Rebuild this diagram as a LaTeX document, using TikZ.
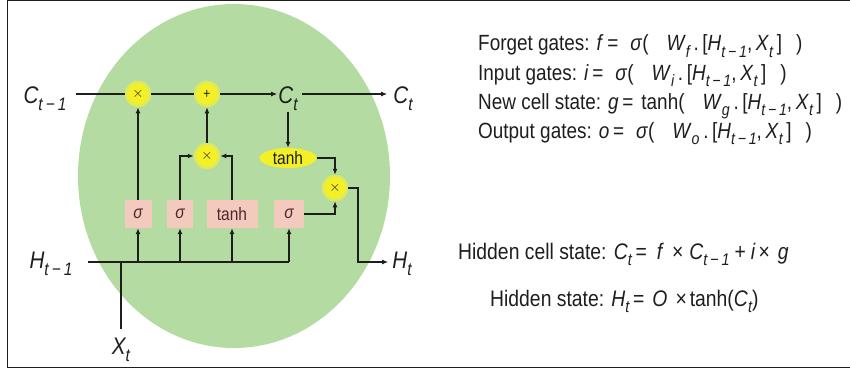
\documentclass[tikz,border=0pt]{standalone}
\usepackage{graphicx}
\usepackage{fontspec}
\setmainfont{Liberation Sans}[FakeStretch=0.86]
\usetikzlibrary{arrows.meta,shapes.geometric}
\definecolor{bggreen}{RGB}{180,220,162}
\definecolor{gateyellow}{RGB}{244,240,40}
\definecolor{halo}{RGB}{222,234,90}
\definecolor{actpink}{RGB}{244,202,190}
\definecolor{ink}{RGB}{30,30,30}
\definecolor{actink}{RGB}{80,40,40}
\newcommand{\sbs}[1]{\raisebox{-0.3em}{\scalebox{0.75}{\itshape #1}}}
\newcommand{\tmo}{t\,−\,1}
\begin{document}
\begin{tikzpicture}[x=1pt,y=-1pt,
  conn/.style={line width=1.2pt, draw=ink},
  arr/.style={conn, -{Latex[length=6pt,width=5pt]}},
  gate/.style={circle, fill=gateyellow, draw=halo, line width=2.5pt, minimum size=24pt, inner sep=0pt, font=\fontsize{14}{14}\selectfont, text=ink},
  act/.style={fill=actpink, minimum height=28pt, inner sep=0pt, font=\fontsize{18}{18}\selectfont, text=actink},
  lbl/.style={font=\fontsize{24}{24}\selectfont\itshape, text=ink, inner sep=1pt, anchor=base},
  eq/.style={anchor=base west, font=\fontsize{22}{22}\selectfont, text=ink, inner sep=0pt},
  eqbig/.style={anchor=base west, font=\fontsize{22.5}{22.5}\selectfont, text=ink, inner sep=0pt}]
\path[use as bounding box] (0,0) rectangle (850,369);
\draw[line width=1pt, ink] (850,1) -- (7,1) -- (7,367) -- (850,367);
% green cell
\fill[bggreen] (234,176) ellipse [x radius=156, y radius=172];
% gates
\node[gate] (mul1) at (138,94) {$\times$};
\node[gate] (add) at (207,94) {+};
\node[gate] (mul2) at (207,156) {$\times$};
\node[gate] (mul3) at (335,188) {$\times$};
\node[ellipse, fill=gateyellow, minimum width=57pt, minimum height=20pt, inner sep=0pt, font=\fontsize{18}{18}\selectfont, text=ink] (tanhE) at (288,158) {tanh};
% activation boxes
\node[act, minimum width=27pt] (s1) at (138,214) {\itshape σ};
\node[act, minimum width=26pt] (s2) at (180,214) {\itshape σ};
\node[act, minimum width=51pt] (tb) at (232,214) {tanh};
\node[act, minimum width=30pt] (s4) at (289,214) {\itshape σ};
% labels
\node[lbl] (cm1) at (45,103) {C\sbs{\tmo}};
\node[lbl] (Ct) at (288,103) {C\sbs{t}};
\node[lbl] (Cout) at (403,103) {C\sbs{t}};
\node[lbl] (Hm1) at (51,268) {H\sbs{\tmo}};
\node[lbl] (Ht) at (402,268) {H\sbs{t}};
\node[lbl] (Xt) at (121,354) {X\sbs{t}};
\coordinate (hend) at (289,262);
\coordinate (hout) at (358,262);
% cell state line
\draw[conn] (cm1.east |- mul1.west) ++(8,0) -- (mul1.west);
\draw[conn] (mul1.east) -- (add.west);
\draw[arr] (add.east) -- (Ct.west |- add.east);
\draw[arr] (Ct.east |- add.east) ++(3,0) -- ([xshift=-5pt]Cout.west |- add.east);
\draw[arr] (Ct.south -| tanhE.north) -- (tanhE.north);
% gate inputs
\draw[arr] (s1.north) -- (mul1.south);
\draw[arr] (s2.north) |- (mul2.west);
\draw[arr] (tb.north) |- (mul2.east);
\draw[arr] (mul2.north) -- (add.south);
\draw[arr] (tanhE.east) -| (mul3.north);
\draw[arr] (s4.east) -| (mul3.south);
\draw[arr] (mul3.east) -| (hout) -- ([xshift=-3pt]Ht.west |- hout);
% hidden input line
\draw[conn] (Hm1.east |- hend) ++(14,0) -- (hend);
\draw[conn] (Xt.north) ++(0,-7) -- (Xt.north |- hend);
\draw[arr] (s1.south |- hend) -- (s1.south);
\draw[arr] (s2.south |- hend) -- (s2.south);
\draw[arr] (tb.south |- hend) -- (tb.south);
\draw[arr] (hend) -- (s4.south);
% equations
\node[eq] (e1) at (478,51) {Forget gates: \textit{f}\,=\hspace{12pt}\textit{σ}(\hspace{18pt}\textit{W}\sbs{f}\,.\,[\textit{H}\sbs{\tmo},\,\textit{X}\sbs{t}\,]\hspace{14pt})};
\node[eq] (e2) at (478,80) {Input gates: \textit{i}\,=\hspace{12pt}\textit{σ}(\hspace{18pt}\textit{W}\sbs{i}\,.\,[\textit{H}\sbs{\tmo},\,\textit{X}\sbs{t}\,]\hspace{14pt})};
\node[eq] (e3) at (478,109) {New cell state: \textit{g}\,=\hspace{8pt}tanh(\hspace{18pt}\textit{W}\sbs{g}\,.\,[\textit{H}\sbs{\tmo},\,\textit{X}\sbs{t}\,]\hspace{14pt})};
\node[eq] (e4) at (478,138) {Output gates: \textit{o}\,=\hspace{12pt}\textit{σ}(\hspace{18pt}\textit{W}\sbs{o}\,.\,[\textit{H}\sbs{\tmo},\,\textit{X}\sbs{t}\,]\hspace{14pt})};
\node[eqbig] (e5) at (458,259) {Hidden cell state: \textit{C}\sbs{t}\,=\hspace{10pt}\textit{f}\hspace{8pt}×\hspace{6pt}\textit{C}\sbs{\tmo}\hspace{5pt}+\hspace{5pt}\textit{i}\hspace{3pt}×\hspace{8pt}\textit{g}};
\node[eqbig] (e6) at (490,306) {Hidden state: \textit{H}\sbs{t}\,=\hspace{8pt}\textit{O}\hspace{8pt}×\hspace{3pt}tanh(\textit{C}\sbs{t})};
\end{tikzpicture}
\end{document}
